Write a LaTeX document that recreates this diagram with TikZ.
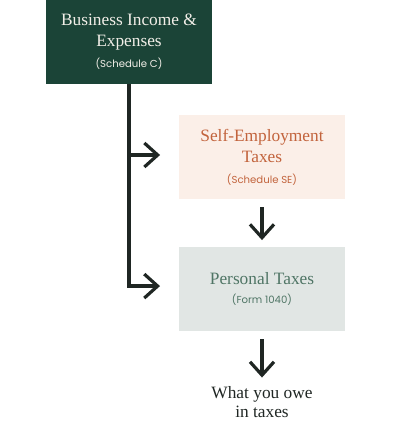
\documentclass[tikz,border=0pt]{standalone}
\usepackage{fontspec}
\setmainfont{Liberation Serif}
\newfontfamily\subfont{Poppins}
\usepackage{tikz}
\usetikzlibrary{arrows.meta,positioning}
\definecolor{ink}{HTML}{1F2623}
\definecolor{forest}{HTML}{1B4437}
\definecolor{cream}{HTML}{F2EFE8}
\definecolor{peach}{HTML}{FBEFE8}
\definecolor{rust}{HTML}{C2633C}
\definecolor{mist}{HTML}{E1E6E4}
\definecolor{sage}{HTML}{4F7565}
\newcommand{\subtext}[1]{{\subfont\fontsize{7.6}{9}\selectfont #1}}
\tikzstyle{arrow}=[draw,-{Straight Barb[length=10pt,width=18pt]},line width=2.4pt,ink]
\tikzstyle{block} =
  [rectangle, minimum width=124.5pt, minimum height=63pt, inner sep=0pt,
   text centered, align=center, font=\fontsize{13}{15.8}\selectfont]

\begin{document}
\begin{tikzpicture}[x=0.75pt, y=-0.75pt, node distance = 99pt]
  \useasboundingbox (0,0) rectangle (400,433);
  \node [block, fill=forest, text=cream] at (129,42) (income)
    {Business Income \&\\ Expenses\\[0pt] \subtext{(Schedule C)}};
  \node [block, fill=peach, text=rust, below of=income, xshift=99.75pt,
    node distance=86.25pt] (selfemp)
    {Self-Employment\\ Taxes\\[0pt] \subtext{(Schedule SE)}};
  \node [block, fill=mist, text=sage, below of=selfemp] (personal)
    {\raisebox{-3pt}{Personal Taxes}\\[2pt] \subtext{(Form 1040)}};
  \node [below of=personal, node distance=84.75pt, align=center, text=ink,
    font=\fontsize{13}{14.5}\selectfont] (owe) {What you owe\\ in taxes};
  \coordinate [left of=personal, node distance=76.5pt, yshift=2.2pt] (turn);

  \draw [arrow, -] (income.south) -- (income.south |- turn);
  \draw [arrow] ([yshift=1.5pt]income.south |- selfemp.west) -- ([xshift=-14pt,yshift=1.5pt]selfemp.west);
  \draw [arrow, line cap=rect] (income.south |- turn) -- (turn);
  \draw [arrow, shorten <=6pt, shorten >=5pt] (selfemp.south) -- (personal.north);
  \draw [arrow, shorten <=6pt, shorten >=3pt] (personal.south) -- (owe.north);
\end{tikzpicture}
\end{document}
